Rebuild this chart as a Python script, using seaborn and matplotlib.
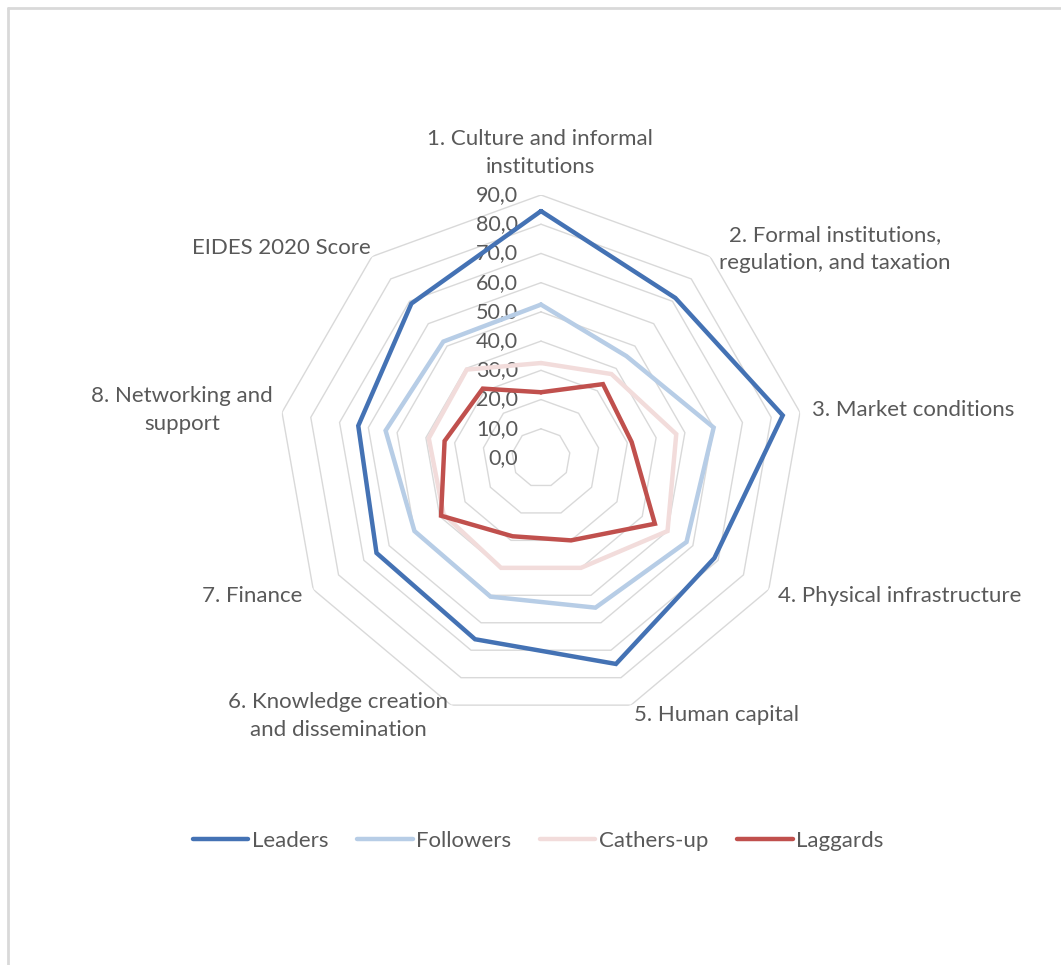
import numpy as np
import pandas as pd
import matplotlib
matplotlib.use("Agg")
import matplotlib.pyplot as plt
import seaborn as sns

# Pillar names (clockwise from the top)
categories = [
    "1. Culture and informal\ninstitutions",
    "2. Formal institutions,\nregulation, and taxation",
    "3. Market conditions",
    "4. Physical infrastructure",
    "5. Human capital",
    "6. Knowledge creation\nand dissemination",
    "7. Finance",
    "8. Networking and\nsupport",
    "EIDES 2020 Score",
]

# Average scores per country group
leaders = [84.5, 71.5, 84.0, 68.5, 75.0, 66.0, 65.0, 63.5, 69.0]
followers = [52.5, 45.5, 60.0, 57.5, 54.5, 50.5, 50.0, 54.0, 52.0]
cathers_up = [32.5, 37.5, 47.0, 50.0, 40.0, 40.0, 38.5, 39.0, 39.5]
laggards = [22.5, 33.0, 31.5, 45.0, 30.0, 28.5, 39.5, 33.5, 31.0]

series_names = ["Leaders", "Followers", "Cathers-up", "Laggards"]
series_values = [leaders, followers, cathers_up, laggards]
palette = ["#4472b4", "#b7cde6", "#f2dcdb", "#c0504d"]

ring_values = [10, 20, 30, 40, 50, 60, 70, 80, 90]
tick_labels = ["0,0", "10,0", "20,0", "30,0", "40,0", "50,0", "60,0", "70,0", "80,0", "90,0"]

W, H = 1061, 965
sns.set_theme(style="white")
plt.rcParams["font.family"] = ["Lato", "DejaVu Sans"]
TEXT = "#595959"
FS = 16

fig = plt.figure(figsize=(W / 100, H / 100), dpi=100)
fig.patch.set_facecolor("white")

cx, cy, R = 541, 458, 263
ax = fig.add_axes([(cx - R) / W, (H - cy - R) / H, 2 * R / W, 2 * R / H], projection="polar")
ax.set_theta_zero_location("N")
ax.set_theta_direction(-1)
ax.set_facecolor("none")

n = len(categories)
angles = np.linspace(0, 2 * np.pi, n, endpoint=False)
closed_angles = np.append(angles, angles[0])

# polygonal grid rings
for rv in ring_values:
    ax.plot(closed_angles, [rv] * (n + 1), color="#d9d9d9", lw=1.0, zorder=1)

# long-format table, each polygon closed back to its first pillar
rows = []
for name, vals in zip(series_names, series_values):
    closed = list(vals) + [vals[0]]
    for i, (a, v) in enumerate(zip(closed_angles, closed)):
        rows.append({"angle": a, "score": v, "group": name, "order": i})
df = pd.DataFrame(rows)

sns.lineplot(
    data=df, x="angle", y="score", hue="group", hue_order=series_names,
    palette=palette, sort=False, estimator=None, units="group",
    linewidth=3.2, ax=ax, legend=True, zorder=3,
)
leg = ax.get_legend()
handles = leg.legend_handles
labels = [t.get_text() for t in leg.get_texts()]
leg.remove()
for h in handles:
    h.set_linewidth(3.2)
    h.set_solid_capstyle("round")
for line in ax.lines:
    line.set_solid_joinstyle("miter")

ax.set_ylim(0, 90)
ax.set_xticks([])
ax.set_yticks([])
ax.set_xlabel("")
ax.set_ylabel("")
ax.grid(False)
ax.spines["polar"].set_visible(False)

# radial tick labels along the top spoke
for i, lab in enumerate(tick_labels):
    ax.annotate(lab, xy=(0, i * 10), xytext=(-23, 0), textcoords="offset pixels",
                ha="right", va="center", fontsize=15.5, color=TEXT, zorder=2)

# pillar labels
label_pos = [(540, 153), (835, 249), (913, 410), (900, 596), (717, 715),
             (338, 716), (252, 596), (182, 410), (281, 248)]
for text, (x, y) in zip(categories, label_pos):
    fig.text(x / W, 1 - y / H, text, ha="center", va="center", fontsize=FS,
             color=TEXT, linespacing=1.55, multialignment="center")

fig.legend(handles, labels, loc="center", bbox_to_anchor=(538 / W, 1 - 841 / H),
           ncol=4, frameon=False, fontsize=FS, labelcolor=TEXT,
           handlelength=2.5, handletextpad=0.15, columnspacing=1.3)

# chart frame (top and left edges)
fig.add_artist(plt.Line2D([8 / W, 1], [1 - 8 / H, 1 - 8 / H], transform=fig.transFigure,
                          color="#d9d9d9", lw=2))
fig.add_artist(plt.Line2D([8 / W, 8 / W], [0, 1 - 8 / H], transform=fig.transFigure,
                          color="#d9d9d9", lw=2))

fig.savefig("out.png", dpi=100, facecolor="white")
